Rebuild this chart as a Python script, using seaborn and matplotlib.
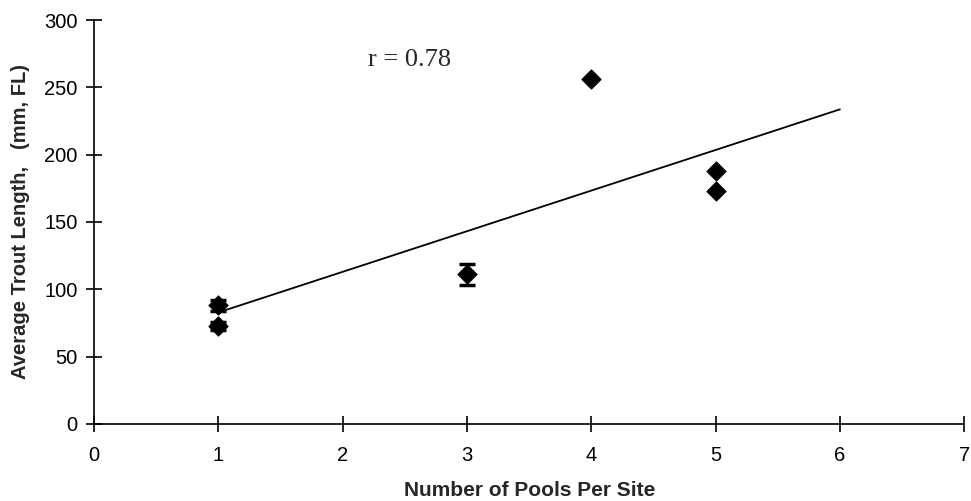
import numpy as np
import pandas as pd
import matplotlib
matplotlib.use("Agg")
import matplotlib.pyplot as plt
import seaborn as sns

# Data
pools = [1, 1, 3, 4, 5, 5]
length = [88, 73, 111, 256, 188, 173]
err = [4, 3, 8, 0, 0, 0]
x_ticks = [0, 1, 2, 3, 4, 5, 6, 7]
y_ticks = [0, 50, 100, 150, 200, 250, 300]
r_label = "r = 0.78"

df = pd.DataFrame({"pools": pools, "length": length, "err": err})

sns.set_style("white")
plt.rcParams["font.family"] = ["Liberation Sans", "DejaVu Sans"]

fig = plt.figure(figsize=(9.71, 5.01), dpi=100)
ax = fig.add_axes([0.097, 0.154, 0.896, 0.806])

# regression line from x=1 to x=6
slope, intercept = np.polyfit(df["pools"], df["length"], 1)
line_x = np.array([1, 6])
line_df = pd.DataFrame({"x": line_x, "y": slope * line_x + intercept})
sns.lineplot(data=line_df, x="x", y="y", ax=ax, color="black", lw=1.3)

eb = df[df["err"] > 0]
ax.errorbar(eb["pools"], eb["length"], yerr=eb["err"], fmt="none",
            ecolor="black", elinewidth=2, capsize=6, capthick=2.5, zorder=3)
sns.scatterplot(data=df, x="pools", y="length", marker="D", s=95,
                color="black", edgecolor="black", ax=ax, zorder=4)

ax.set_xlim(0, 7)
ax.set_ylim(0, 300)
ax.set_xticks(x_ticks)
ax.set_yticks(y_ticks)
ax.tick_params(axis="both", direction="inout", length=12, width=1.2,
               labelsize=14.5, colors="black", bottom=True, left=True)
ax.tick_params(axis="x", pad=10)
ax.tick_params(axis="y", pad=6)
for side in ["top", "right"]:
    ax.spines[side].set_visible(False)
for side in ["left", "bottom"]:
    ax.spines[side].set_color("black")
    ax.spines[side].set_linewidth(1.2)

ax.set_xlabel("Number of Pools Per Site", fontsize=15, fontweight="bold", labelpad=11.5)
ax.set_ylabel("Average Trout Length,   (mm, FL)", fontsize=14.5, fontweight="bold", labelpad=10)

ax.text(2.2, 270, r_label, fontsize=19, family=["Liberation Serif", "DejaVu Serif"],
        ha="left", va="center")

fig.savefig("out.png", dpi=100)
